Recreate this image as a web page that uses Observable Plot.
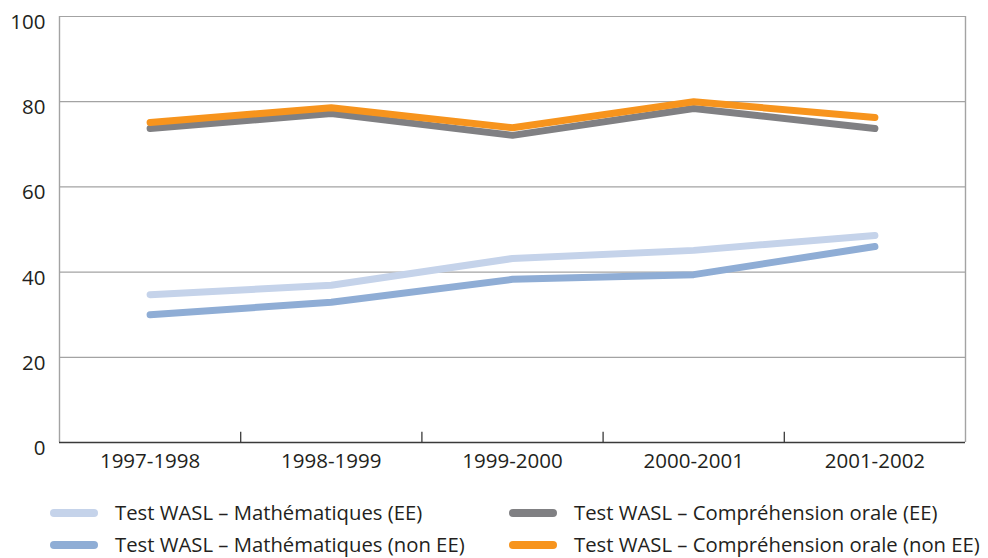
<!DOCTYPE html>
<html>
<head>
<meta charset="utf-8">
<script src="https://cdn.jsdelivr.net/npm/d3@7"></script>
<script src="https://cdn.jsdelivr.net/npm/@observablehq/plot@0.6"></script>
<style>
  body { margin: 0; background: #fff; font-family: "Open Sans", Lato, sans-serif; color: #231f20; overflow: hidden; }
  #chart { width: 988px; }
  .legend { display: grid; grid-template-columns: 459px 429px; margin-left: 50px; margin-top: 17px; row-gap: 0; }
  .item { display: flex; align-items: center; height: 32px; font-size: 20.3px; line-height: 1.05; color: #231f20; white-space: nowrap; }
  .sw { width: 48px; height: 8px; border-radius: 4px; margin-right: 17px; flex: none; }
</style>
</head>
<body>
<div id="chart"></div>
<script>
const categories = ["1997-1998", "1998-1999", "1999-2000", "2000-2001", "2001-2002"];
const seriesNames = [
  "Test WASL – Mathématiques (EE)",
  "Test WASL – Mathématiques (non EE)",
  "Test WASL – Compréhension orale (EE)",
  "Test WASL – Compréhension orale (non EE)"
];
const mathEE = [34.7, 36.9, 43.2, 45.1, 48.6];
const mathNonEE = [30.0, 32.9, 38.3, 39.4, 46.0];
const comprEE = [73.7, 77.2, 72.1, 78.4, 73.7];
const comprNonEE = [75.1, 78.6, 73.9, 80.0, 76.3];
const seriesColors = ["#c5d3ea", "#8fadd5", "#808083", "#f7941d"];
const yTicks = [0, 20, 40, 60, 80, 100];

const allSeries = [mathEE, mathNonEE, comprEE, comprNonEE];
const rows = allSeries.map((vals, s) => vals.map((v, i) => ({series: seriesNames[s], idx: i + 0.5, value: v})));
const centers = categories.map((c, i) => i + 0.5);
const boundaries = categories.slice(1).map((c, i) => i + 1);

const lineMarks = rows.map((r, s) => Plot.line(r, {
  x: "idx", y: "value", stroke: seriesColors[s], strokeWidth: 7,
  strokeLinecap: "round", strokeLinejoin: "miter"
}));

const plot = Plot.plot({
  width: 988,
  height: 480,
  marginLeft: 59,
  marginRight: 23,
  marginTop: 16,
  marginBottom: 38,
  style: {fontFamily: "'Open Sans', Lato, sans-serif", color: "#231f20", background: "#fff"},
  x: {domain: [0, categories.length], axis: null},
  y: {domain: [0, 100], axis: null},
  marks: [
    Plot.gridY(yTicks.slice(1), {stroke: "#a3a3a3", strokeOpacity: 1, strokeWidth: 1.2}),
    Plot.ruleX([0, categories.length], {stroke: "#a3a3a3", strokeWidth: 1.4}),
    Plot.ruleX(boundaries, {y1: 0, y2: 2.4, stroke: "#3a3a3a", strokeWidth: 1.3}),
    Plot.ruleY([0], {stroke: "#3a3a3a", strokeWidth: 1.6}),
    Plot.axisY(yTicks, {tickSize: 0, tickPadding: 14, fontSize: 20.5, dy: 6, label: null, tickFormat: d => String(d)}),
    Plot.axisX(centers, {tickSize: 0, tickPadding: 11, fontSize: 20.5, label: null, tickFormat: d => categories[Math.floor(d)]}),
    ...lineMarks
  ]
});
document.getElementById("chart").appendChild(plot);

const legend = document.createElement("div");
legend.className = "legend";
const order = [0, 2, 1, 3];
order.forEach(s => {
  const item = document.createElement("div");
  item.className = "item";
  const sw = document.createElement("span");
  sw.className = "sw";
  sw.style.background = seriesColors[s];
  const t = document.createElement("span");
  t.textContent = seriesNames[s];
  item.appendChild(sw);
  item.appendChild(t);
  legend.appendChild(item);
});
document.getElementById("chart").appendChild(legend);
</script>
</body>
</html>
